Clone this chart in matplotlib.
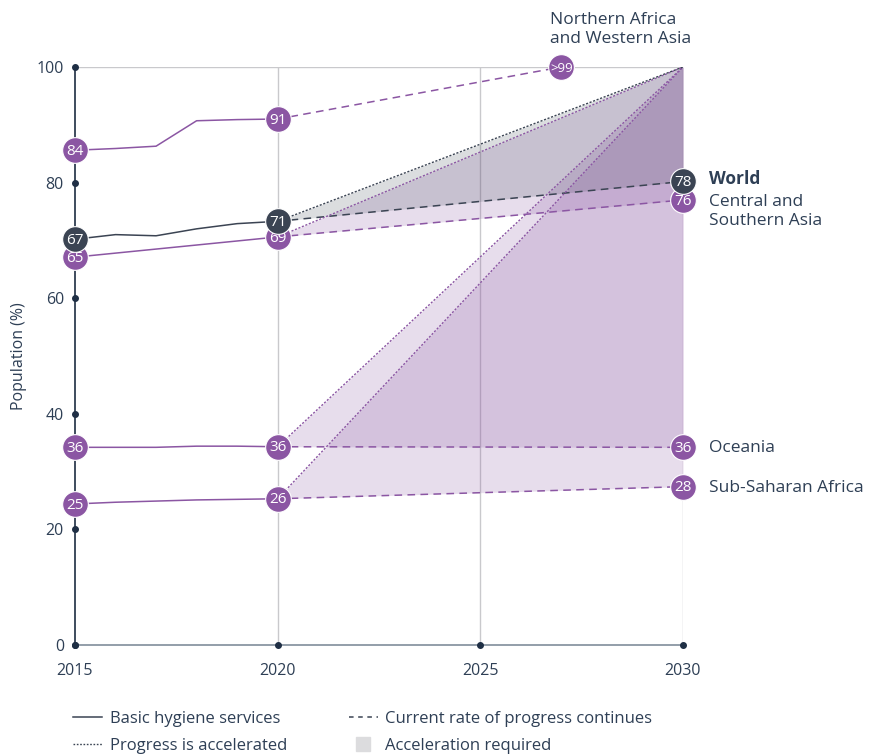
import matplotlib.pyplot as plt
import numpy as np
from matplotlib.lines import Line2D

plt.rcParams['font.family'] = ['Open Sans', 'DejaVu Sans']

# ---- data ----
years_hist = [2015, 2016, 2017, 2018, 2019, 2020]
world_hist = [70.2, 71.0, 70.8, 72.0, 72.9, 73.3]
nawa_hist = [85.6, 85.9, 86.3, 90.7, 90.9, 91.0]
csa_hist = [67.1, 67.8, 68.5, 69.2, 69.9, 70.6]
oce_hist = [34.2, 34.2, 34.2, 34.4, 34.4, 34.3]
ssa_hist = [24.4, 24.7, 24.9, 25.1, 25.2, 25.3]

# current rate of progress, value in 2030
world_2030 = 80.2
csa_2030 = 77.0
oce_2030 = 34.2
ssa_2030 = 27.4
nawa_reach_year = 2027
target = 100

# bubble labels
labels_2015 = {'world': '67', 'nawa': '84', 'csa': '65', 'oce': '36', 'ssa': '25'}
labels_2020 = {'world': '71', 'nawa': '91', 'csa': '69', 'oce': '36', 'ssa': '26'}
labels_2030 = {'world': '78', 'csa': '76', 'oce': '36', 'ssa': '28'}
nawa_label = '>99'

purple = '#8b56a3'
dark = '#3b4453'
text_col = '#2e3f55'

fig = plt.figure(figsize=(8.81, 7.56), dpi=100)
ax = fig.add_axes([75 / 881, 1 - 645 / 756, (683 - 75) / 881, (645 - 67) / 756])

ax.set_xlim(2015, 2030)
ax.set_ylim(0, 100)

# grid
for x in [2020, 2025, 2030]:
    ax.axvline(x, color='#c9c9cc', lw=1, zorder=0)
ax.axhline(100, color='#c9c9cc', lw=1, zorder=0)

series = {
    'csa': (csa_hist, csa_2030, purple),
    'oce': (oce_hist, oce_2030, purple),
    'ssa': (ssa_hist, ssa_2030, purple),
    'world': (world_hist, world_2030, dark),
}

# acceleration required areas
for key, (hist, end, col) in series.items():
    start = hist[-1]
    alpha = 0.18 if key == 'world' else 0.2
    ax.fill_between([2020, 2030], [start, end], [start, target], color=col, alpha=alpha,
                    lw=0, zorder=1)

# history lines
ax.plot(years_hist, nawa_hist, color=purple, lw=1.1, zorder=3)
for key, (hist, end, col) in series.items():
    ax.plot(years_hist, hist, color=col, lw=1.1, zorder=3)

# current rate lines
dash = (0, (5, 3.5))
for key, (hist, end, col) in series.items():
    ax.plot([2020, 2030], [hist[-1], end], color=col, lw=1.1, ls=dash, zorder=3)
ax.plot([2020, nawa_reach_year], [nawa_hist[-1], target], color=purple, lw=1.1,
        ls=dash, zorder=3)

# accelerated lines
dots = (0, (1.5, 1.2))
for key, (hist, end, col) in series.items():
    ax.plot([2020, 2030], [hist[-1], target], color=col, lw=1.0, ls=dots, zorder=3)

z = [5]


def bubble(x, y, txt, col, fs=11):
    z[0] += 2
    ax.plot(x, y, 'o', ms=18.5, color=col, mec='white', mew=0.8, zorder=z[0], clip_on=False)
    ax.text(x, y - 0.2, txt, color='white', fontsize=fs, fontweight='medium',
            ha='center', va='center', zorder=z[0] + 1)


bubble(2015, nawa_hist[0], labels_2015['nawa'], purple)
bubble(2020, nawa_hist[-1], labels_2020['nawa'], purple)
bubble(nawa_reach_year, target, nawa_label, purple, fs=9.5)
for key, (hist, end, col) in series.items():
    bubble(2015, hist[0], labels_2015[key], col)
    bubble(2020, hist[-1], labels_2020[key], col)
    bubble(2030, end, labels_2030[key], col)

# region labels
lx = 2030.65
fs_lab = 12.5
ax.text(lx, world_2030 + 0.4, 'World', fontsize=fs_lab, fontweight='bold', color=text_col,
        va='center', ha='left')
ax.text(lx, csa_2030 - 2.0, 'Central and\nSouthern Asia', fontsize=fs_lab, color=text_col,
        va='center', ha='left', linespacing=1.2)
ax.text(lx, oce_2030 - 0.2, 'Oceania', fontsize=fs_lab, color=text_col, va='center', ha='left')
ax.text(lx, ssa_2030 - 0.3, 'Sub-Saharan Africa', fontsize=fs_lab, color=text_col,
        va='center', ha='left')
ax.text(2026.72, 103.4, 'Northern Africa\nand Western Asia', fontsize=fs_lab, color=text_col,
        va='bottom', ha='left', linespacing=1.3)

# axes styling
for s in ['top', 'right']:
    ax.spines[s].set_visible(False)
ax.spines['left'].set_color('#2f3e50')
ax.spines['left'].set_linewidth(1.3)
ax.spines['bottom'].set_color('#8a96a3')
ax.spines['bottom'].set_linewidth(1.3)
ax.set_yticks(np.arange(0, 101, 20))
ax.set_xticks([2015, 2020, 2025, 2030])
ax.tick_params(length=0, labelsize=11.5, labelcolor=text_col)
ax.tick_params(axis='y', pad=8)
ax.tick_params(axis='x', pad=13)
for yt in np.arange(0, 101, 20):
    ax.plot(2015, yt, 'o', ms=4, color='#1f2f45', zorder=4, clip_on=False)
for xt in [2015, 2020, 2025, 2030]:
    ax.plot(xt, 0, 'o', ms=4, color='#1f2f45', zorder=4, clip_on=False)
ax.set_ylabel('Population (%)', fontsize=11.5, color=text_col, labelpad=7)

# legend
handles = [
    Line2D([], [], color=dark, lw=1.1),
    Line2D([], [], color=dark, lw=1.0, ls=(0, (1.2, 1.2))),
    Line2D([], [], color=dark, lw=1.1, ls=(0, (3, 3))),
    Line2D([], [], ls='none', marker='s', ms=10, color='#dcdcde'),
]
names = ['Basic hygiene services', 'Progress is accelerated',
         'Current rate of progress continues', 'Acceleration required']
fig.legend(handles, names, ncol=2, frameon=False, loc='lower left',
           bbox_to_anchor=(58 / 881, -0.017), fontsize=12, handlelength=1.75,
           handletextpad=0.45, columnspacing=3.7, labelspacing=0.65,
           labelcolor=text_col)

fig.savefig('out.png', dpi=100)
